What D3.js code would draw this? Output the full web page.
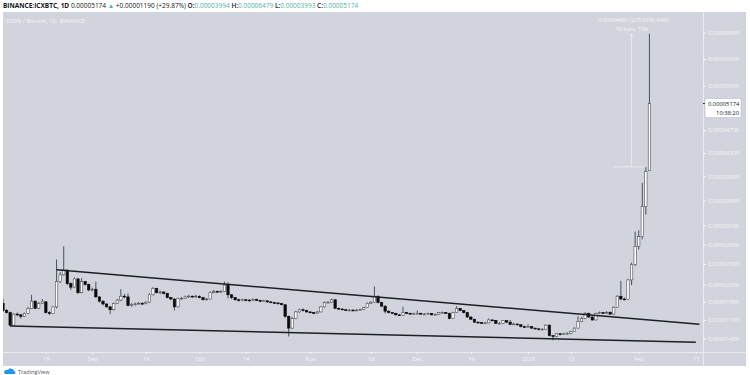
<!DOCTYPE html>
<html>
<head>
<meta charset="utf-8">
<script src="https://cdn.jsdelivr.net/npm/d3@7"></script>
<style>
  body { margin: 0; background: #fff; }
  svg { display: block; font-family: "Open Sans", sans-serif; }
</style>
</head>
<body>
<svg id="chart" width="750" height="375"></svg>
<script>
// prices in satoshi (1e-8 BTC), one daily candle from 7 Aug 2019
var startDay = new Date(2019, 7, 7);

var opens = [1930,1830,1800,1630,1780,1770,1750,1790,1860,1960,
1860,1930,1950,1800,1790,1880,2240,2340,2410,2210,
2160,2280,2080,2240,2200,2120,2130,2020,1960,1920,
1880,1840,1930,1975,2030,2020,1900,1910,1920,1930,
1925,1945,2050,2140,2080,2090,2070,2010,1990,1880,
2000,2000,2020,2030,2020,2030,2010,1980,1990,2080,
2100,2090,2100,2190,2050,2010,1980,1975,1980,1975,
1970,1985,1970,1960,1965,1950,1940,1935,1925,1910,
1750,1590,1720,1810,1840,1830,1810,1800,1795,1810,
1880,1940,1945,1980,1860,1850,1840,1835,1835,1830,
1835,1845,1870,1930,1945,2030,1940,1890,1820,1800,
1790,1770,1765,1800,1790,1785,1785,1790,1780,1780,
1790,1770,1775,1800,1800,1790,1720,1800,1860,1830,
1800,1740,1710,1670,1665,1655,1660,1700,1695,1655,
1655,1690,1670,1640,1645,1635,1610,1605,1610,1590,
1580,1570,1575,1630,1490,1480,1515,1505,1515,1520,
1545,1590,1680,1720,1790,1740,1700,1790,1800,1795,
1805,1780,1875,2030,1990,1985,2265,2490,2770,2920,
3400,3994];

var highs = [2000,1850,1815,1790,1800,1780,1800,1880,2050,1970,
1950,1990,1960,1820,1890,2570,2380,2770,2420,2230,
2300,2290,2290,2250,2210,2150,2240,2030,1970,1930,
1890,1940,1990,2130,2060,2070,1930,1940,1950,1945,
1960,2070,2160,2150,2110,2100,2080,2020,2000,2010,
2020,2040,2050,2040,2050,2040,2020,2005,2100,2120,
2110,2115,2240,2230,2060,2020,1995,1995,1990,1990,
2000,1995,1980,1980,1970,1960,1950,1945,1935,1915,
1760,1740,1825,1855,1860,1840,1820,1810,1820,1890,
1955,1960,1995,1985,1870,1860,1850,1850,1845,1850,
1855,1880,1940,1960,2170,2040,1950,1900,1830,1810,
1800,1780,1880,1810,1800,1800,1830,1800,1795,1800,
1795,1790,1810,1815,1810,1800,1810,1890,1865,1835,
1810,1750,1715,1680,1670,1675,1720,1710,1700,1670,
1700,1695,1700,1660,1650,1640,1620,1640,1615,1595,
1590,1590,1640,1640,1500,1525,1525,1530,1535,1555,
1600,1750,1740,1810,1800,1750,1800,1815,1810,1820,
1815,1885,2045,2250,2010,2280,2520,3000,3020,3790,
4060,6479];

var lows = [1810,1790,1615,1625,1750,1720,1740,1780,1850,1850,
1850,1920,1790,1770,1780,1860,2220,2330,2190,2120,
2150,2060,2070,2180,2100,2100,2010,1940,1900,1870,
1780,1830,1920,1960,2000,1890,1880,1900,1910,1905,
1915,1935,2040,2070,2060,2055,2000,1975,1830,1870,
1985,1995,2010,2005,2010,2000,1970,1970,1985,2070,
2075,2080,2090,2000,1990,1965,1955,1960,1960,1955,
1960,1960,1945,1950,1935,1930,1920,1910,1900,1730,
1480,1580,1710,1800,1815,1800,1790,1780,1785,1805,
1870,1930,1935,1850,1835,1830,1825,1825,1820,1825,
1830,1840,1865,1925,1940,1930,1880,1790,1790,1780,
1760,1755,1760,1780,1775,1775,1780,1770,1770,1775,
1760,1765,1770,1790,1780,1710,1715,1795,1820,1790,
1730,1700,1660,1650,1645,1645,1655,1680,1645,1640,
1645,1660,1630,1635,1625,1600,1595,1600,1580,1570,
1560,1565,1570,1480,1430,1470,1495,1500,1505,1510,
1540,1585,1670,1710,1730,1690,1695,1780,1780,1785,
1770,1775,1870,1980,1970,1980,2190,2470,2720,2880,
3270,3993];

var closes = [1830,1800,1630,1780,1770,1750,1790,1860,1960,1860,
1930,1950,1800,1790,1880,2240,2340,2410,2210,2160,
2280,2080,2240,2200,2120,2130,2020,1960,1920,1880,
1840,1930,1975,2030,2020,1900,1910,1920,1930,1925,
1945,2050,2140,2080,2090,2070,2010,1990,1880,2000,
2000,2020,2030,2020,2030,2010,1980,1990,2080,2100,
2090,2100,2190,2050,2010,1980,1975,1980,1975,1970,
1985,1970,1960,1965,1950,1940,1935,1925,1910,1750,
1590,1720,1810,1840,1830,1810,1800,1795,1810,1880,
1940,1945,1980,1860,1850,1840,1835,1835,1830,1835,
1845,1870,1930,1945,2030,1940,1890,1820,1800,1790,
1770,1765,1800,1790,1785,1785,1790,1780,1780,1790,
1770,1775,1800,1800,1790,1720,1800,1860,1830,1800,
1740,1710,1670,1665,1655,1660,1700,1695,1655,1655,
1690,1670,1640,1645,1635,1610,1605,1610,1590,1580,
1570,1575,1630,1490,1480,1515,1505,1515,1520,1545,
1590,1680,1720,1790,1740,1700,1790,1800,1795,1805,
1780,1875,2030,1990,1985,2265,2490,2770,2920,3400,
3984,5174];

var priceTicks = [6500, 6000, 5500, 4700, 4300, 3900, 3500, 3100, 2800, 2500, 2200, 1950, 1700, 1450];
var timeTicks = [new Date(2019,7,19), new Date(2019,8,1), new Date(2019,8,16), new Date(2019,9,1),
  new Date(2019,9,14), new Date(2019,10,1), new Date(2019,10,18), new Date(2019,11,1),
  new Date(2019,11,16), new Date(2020,0,1), new Date(2020,0,13), new Date(2020,1,1), new Date(2020,1,17)];
var timeLabels = ["19","Sep","16","Oct","14","Nov","18","Dec","16","2020","13","Feb","17"];

// hand drawn trend lines: [date, price] end points
var upperLine = [[new Date(2019,7,22), 2415], [new Date(2020,1,18), 1641]];
var lowerLine = [[new Date(2019,7,9), 1620], [new Date(2020,1,17), 1405]];

// price range measure
var measureDates = [new Date(2020,0,25), new Date(2020,0,30), new Date(2020,1,3)];
var measurePrices = [4060, 6479];
var measureTexts = ["0.00004480 (225.36%) 4480", "10 bars, 10d"];

var lastPrice = 5174;
var countdown = "10:38:20";

var paneL = 3, paneR = 703, paneT = 12, paneB = 352;
var bg = "#d1d4dc", teal = "#4fb3a3", ink = "#131722", axisText = "#f4f5f8";

var fmt = function(v){ return (v / 1e8).toFixed(8); };

var candles = closes.map(function(c, i){
  return {date: d3.timeDay.offset(startDay, i), o: opens[i], h: highs[i], l: lows[i], c: c};
});

var svg = d3.select("#chart");

var x = d3.scaleTime()
  .domain([new Date(2019,7,7), new Date(2020,1,19)])
  .range([paneL, paneR]);
var y = d3.scalePow().exponent(0.74)
  .domain([1280, 6900])
  .range([paneB, paneT]);

// background panel
svg.append("rect").attr("x", 3).attr("y", 12).attr("width", 743).attr("height", 354).attr("fill", bg);
svg.append("line").attr("x1", paneR + 0.5).attr("x2", paneR + 0.5).attr("y1", 12).attr("y2", 366)
  .attr("stroke", "#e9ebf0").attr("stroke-width", 1);
svg.append("line").attr("x1", 3).attr("x2", 746).attr("y1", paneB + 0.5).attr("y2", paneB + 0.5)
  .attr("stroke", "#e9ebf0").attr("stroke-width", 1);

// header
var head = svg.append("text").attr("x", 3).attr("y", 7.5).attr("font-size", 6.5).attr("fill", ink);
head.append("tspan").attr("font-weight", 700).text("BINANCE:ICXBTC, 1D ");
head.append("tspan").text(fmt(lastPrice) + " ");
head.append("tspan").attr("fill", teal).text("\u25B2");
head.append("tspan").text(" +0.00001190 (+29.87%) ");
[["O:", opens[181]], ["H:", highs[181]], ["L:", lows[181]], ["C:", closes[181]]].forEach(function(p){
  head.append("tspan").attr("font-weight", 600).text(p[0]);
  head.append("tspan").attr("fill", teal).text(fmt(p[1]) + " ");
});

svg.append("text").attr("x", 6.5).attr("y", 22.5).attr("font-size", 6).attr("fill", axisText)
  .text("ICON / Bitcoin, 1D, BINANCE");

// pane clip
svg.append("clipPath").attr("id", "pane").append("rect")
  .attr("x", paneL).attr("y", paneT).attr("width", paneR - paneL).attr("height", paneB - paneT);
var plot = svg.append("g").attr("clip-path", "url(#pane)");

// candles
var bw = 2.4;
var cg = plot.selectAll(".candle").data(candles).enter().append("g").attr("class", "candle");
cg.append("line")
  .attr("x1", function(d){ return x(d.date); })
  .attr("x2", function(d){ return x(d.date); })
  .attr("y1", function(d){ return y(d.h); })
  .attr("y2", function(d){ return y(d.l); })
  .attr("stroke", "#2a2e39").attr("stroke-width", 0.8);
cg.append("rect")
  .attr("x", function(d){ return x(d.date) - bw / 2; })
  .attr("y", function(d){ return y(Math.max(d.o, d.c)); })
  .attr("width", bw)
  .attr("height", function(d){ return Math.max(0.8, Math.abs(y(d.o) - y(d.c))); })
  .attr("fill", function(d){ return d.c >= d.o ? "#ffffff" : "#0b0b0b"; })
  .attr("stroke", function(d){ return d.c >= d.o ? "#4a4e59" : "#0b0b0b"; })
  .attr("stroke-width", 0.6);

// trend lines
var trend = d3.line().x(function(d){ return x(d[0]); }).y(function(d){ return y(d[1]); });
[upperLine, lowerLine].forEach(function(l){
  plot.append("path").attr("d", trend(l)).attr("fill", "none")
    .attr("stroke", "#1c1f26").attr("stroke-width", 1.5);
});

// measure tool
var mx = x(measureDates[1]);
var mg = plot.append("g").attr("stroke", "#f0f2f6").attr("stroke-opacity", 0.7).attr("fill", "none");
mg.append("line").attr("x1", x(measureDates[0])).attr("x2", x(measureDates[2]))
  .attr("y1", y(measurePrices[0])).attr("y2", y(measurePrices[0])).attr("stroke-width", 1);
mg.append("line").attr("x1", mx).attr("x2", mx)
  .attr("y1", y(measurePrices[0])).attr("y2", y(measurePrices[1])).attr("stroke-width", 1);
mg.append("path")
  .attr("d", "M" + (mx - 2) + "," + (y(measurePrices[1]) + 3) + "L" + mx + "," + y(measurePrices[1]) + "L" + (mx + 2) + "," + (y(measurePrices[1]) + 3))
  .attr("stroke-width", 0.8);
svg.append("text").attr("x", mx + 2).attr("y", 21.5).attr("text-anchor", "middle")
  .attr("font-size", 5.6).attr("fill", axisText).text(measureTexts[0]);
svg.append("text").attr("x", mx).attr("y", 31).attr("text-anchor", "middle")
  .attr("font-size", 5.6).attr("fill", axisText).text(measureTexts[1]);

// price axis
var yAxis = d3.axisRight(y).tickValues(priceTicks).tickSize(3).tickPadding(2).tickFormat(fmt);
var ya = svg.append("g").attr("transform", "translate(" + paneR + ",0)").call(yAxis);
ya.select(".domain").remove();
ya.selectAll("line").attr("stroke", axisText);
ya.selectAll("text").attr("fill", axisText).attr("font-size", 5.8).attr("font-family", "Open Sans");

// time axis
var xAxis = d3.axisBottom(x).tickValues(timeTicks).tickSize(2).tickPadding(3)
  .tickFormat(function(d, i){ return timeLabels[i]; });
var xa = svg.append("g").attr("transform", "translate(0," + paneB + ")").call(xAxis);
xa.select(".domain").remove();
xa.selectAll("line").attr("stroke", axisText);
xa.selectAll("text").attr("fill", axisText).attr("font-size", 5.8).attr("font-family", "Open Sans");

// last price marker
var ly = y(lastPrice);
svg.append("line").attr("x1", paneR).attr("x2", paneR + 3).attr("y1", ly).attr("y2", ly).attr("stroke", "#131722");
svg.append("rect").attr("x", paneR + 2).attr("y", ly - 5).attr("width", 36).attr("height", 19)
  .attr("fill", "#ffffff").attr("stroke", "#b2b5be").attr("stroke-width", 0.5);
svg.append("text").attr("x", paneR + 5).attr("y", ly + 2).attr("font-size", 5.8).attr("fill", ink).text(fmt(lastPrice));
svg.append("text").attr("x", paneR + 36).attr("y", ly + 11).attr("text-anchor", "end")
  .attr("font-size", 5.8).attr("fill", ink).text(countdown);

// branding
var logo = svg.append("g").attr("transform", "translate(4,369)");
logo.append("path").attr("d", "M0,4 C0,1 2,0 4,1 C5,-1 9,-1 10,2 C12,2 12,5 10,5 L1,5 Z").attr("fill", "#2196f3");
logo.append("text").attr("x", 14).attr("y", 4.5).attr("font-size", 5.5).attr("fill", "#50535e").text("TradingView");
</script>
</body>
</html>
